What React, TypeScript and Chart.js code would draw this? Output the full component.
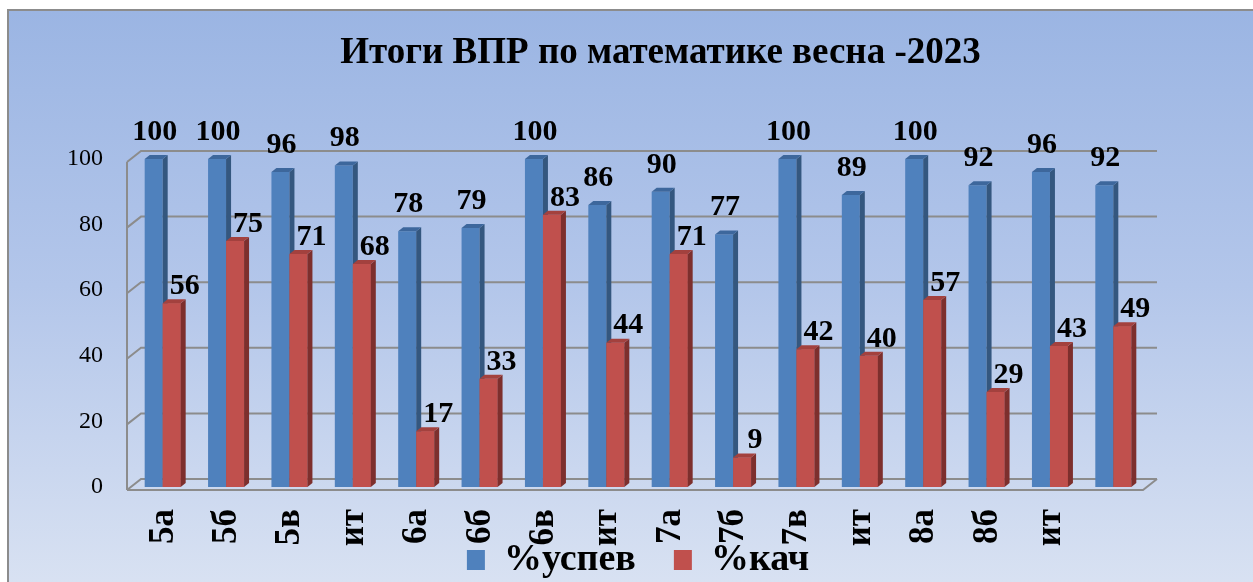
import React, { useEffect, useRef } from 'react';
import { Chart, registerables } from 'chart.js';

Chart.register(...registerables);

const categories = ['5а', '5б', '5в', 'ит', '6а', '6б', '6в', 'ит', '7а', '7б', '7в', 'ит', '8а', '8б', 'ит', ''];
const successValues = [100, 100, 96, 98, 78, 79, 100, 86, 90, 77, 100, 89, 100, 92, 96, 92];
const qualityValues = [56, 75, 71, 68, 17, 33, 83, 44, 71, 9, 42, 40, 57, 29, 43, 49];
const seriesNames = ['%успев', '%кач'];
const yTicks = [0, 20, 40, 60, 80, 100];
const titleText = 'Итоги ВПР по математике весна -2023';

const SERIF = '"Liberation Serif", "Times New Roman", serif';
const DEPTH_X = 5;
const DEPTH_Y = 4;
const X_FONT = 35;

const faces = [
  { front: '#4f81bd', side: '#34577f', top: '#3d679c' },
  { front: '#c0504d', side: '#7d2f2d', top: '#a3413e' },
];

const wallPlugin = {
  id: 'wall3d',
  beforeDatasetsDraw(chart: any) {
    const { ctx, chartArea, scales } = chart;
    const y = scales.y;
    const lf = chartArea.left - 4;
    const rb = chartArea.right + 12;
    ctx.save();
    ctx.strokeStyle = '#8c8c8c';
    ctx.lineWidth = 2;
    yTicks.forEach((v) => {
      const fy = y.getPixelForValue(v);
      ctx.beginPath();
      ctx.moveTo(lf, fy + 3);
      ctx.lineTo(lf + 14, fy - 8);
      ctx.lineTo(rb, fy - 8);
      ctx.stroke();
    });
    const y0 = y.getPixelForValue(0);
    const y100 = y.getPixelForValue(100);
    ctx.beginPath();
    ctx.moveTo(lf, y0 + 3);
    ctx.lineTo(lf, y100 + 3);
    ctx.stroke();
    ctx.beginPath();
    ctx.moveTo(lf, y0 + 3);
    ctx.lineTo(chartArea.right - 2, y0 + 3);
    ctx.lineTo(rb, y0 - 8);
    ctx.stroke();
    ctx.restore();
  },
};

function drawSides(ctx: any, meta: any, f: any) {
  meta.data.forEach((el: any) => {
    const { x, y, base, width } = el.getProps(['x', 'y', 'base', 'width'], true);
    const x0 = x - width / 2;
    const x1 = x + width / 2;
    ctx.fillStyle = f.side;
    ctx.beginPath();
    ctx.moveTo(x1, y);
    ctx.lineTo(x1 + DEPTH_X, y - DEPTH_Y);
    ctx.lineTo(x1 + DEPTH_X, base - DEPTH_Y);
    ctx.lineTo(x1, base);
    ctx.closePath();
    ctx.fill();
    ctx.fillStyle = f.top;
    ctx.beginPath();
    ctx.moveTo(x0, y);
    ctx.lineTo(x0 + DEPTH_X, y - DEPTH_Y);
    ctx.lineTo(x1 + DEPTH_X, y - DEPTH_Y);
    ctx.lineTo(x1, y);
    ctx.closePath();
    ctx.fill();
  });
}

const barSidesPlugin = {
  id: 'barSides3d',
  afterDatasetsDraw(chart: any) {
    const { ctx } = chart;
    ctx.save();
    chart.data.datasets.forEach((_ds: any, di: number) => {
      const meta = chart.getDatasetMeta(di);
      if (di > 0) meta.data.forEach((el: any) => el.draw(ctx));
      drawSides(ctx, meta, faces[di]);
    });
    ctx.restore();
  },
};

const valueLabelPlugin = {
  id: 'valueLabels',
  afterDatasetsDraw(chart: any) {
    const { ctx } = chart;
    ctx.save();
    ctx.font = `bold 30px ${SERIF}`;
    ctx.fillStyle = '#000';
    ctx.textAlign = 'center';
    ctx.textBaseline = 'middle';
    chart.data.datasets.forEach((ds: any, di: number) => {
      const meta = chart.getDatasetMeta(di);
      meta.data.forEach((el: any, i: number) => {
        const { x, y } = el.getProps(['x', 'y'], true);
        const dx = di === 0 ? 1 : 13;
        const dy = di === 0 ? -27 : -17;
        ctx.fillText(String(ds.data[i]), x + dx, y + dy);
      });
    });
    ctx.restore();
  },
};

export default function App() {
  const ref = useRef<HTMLCanvasElement | null>(null);

  useEffect(() => {
    if (!ref.current) return;
    const chart = new Chart(ref.current, {
      type: 'bar',
      data: {
        labels: categories,
        datasets: [
          {
            label: seriesNames[0],
            data: successValues,
            backgroundColor: faces[0].front,
            borderWidth: 0,
            categoryPercentage: 0.568,
            barPercentage: 1,
          },
          {
            label: seriesNames[1],
            data: qualityValues,
            backgroundColor: faces[1].front,
            borderWidth: 0,
            categoryPercentage: 0.568,
            barPercentage: 1,
          },
        ],
      },
      options: {
        responsive: false,
        animation: false,
        devicePixelRatio: 1,
        layout: { padding: { left: 68, right: 0, top: 31, bottom: 11 } },
        plugins: {
          title: {
            display: true,
            text: titleText,
            color: '#000',
            font: { family: SERIF, size: 37, weight: 'bold', lineHeight: 1.2 },
            padding: { top: 0, bottom: 83.6 },
          },
          legend: {
            display: true,
            position: 'bottom',
            fullSize: false,
            labels: {
              color: '#000',
              font: { family: SERIF, size: 38, weight: 'bold' },
              boxWidth: 18,
              boxHeight: 20,
              padding: 38,
            },
          },
          tooltip: { enabled: false },
        },
        scales: {
          x: {
            grid: { display: false, drawTicks: false },
            border: { display: false },
            ticks: {
              color: '#000',
              font: { family: SERIF, size: X_FONT, weight: 'bold', lineHeight: 1.2 },
              minRotation: 90,
              maxRotation: 90,
              autoSkip: false,
              mirror: true,
              labelOffset: X_FONT * 1.2 + 1,
              padding: -22,
            },
            afterFit: (s: any) => {
              s.height = 16;
            },
          },
          y: {
            min: 0,
            max: 100,
            grid: { display: false, drawTicks: false },
            border: { display: false },
            ticks: {
              stepSize: 20,
              color: '#000',
              font: { family: SERIF, size: 24 },
              padding: 28,
            },
            afterFit: (s: any) => {
              s.width = 63;
            },
          },
          y2: {
            position: 'right',
            display: true,
            grid: { display: false, drawTicks: false },
            border: { display: false },
            ticks: { display: false },
            afterFit: (s: any) => {
              s.width = 108;
            },
          },
        },
      },
      plugins: [wallPlugin, barSidesPlugin, valueLabelPlugin],
    } as any);
    return () => chart.destroy();
  }, []);

  return (
    <div style={{ position: 'fixed', left: 0, top: 0, right: 0, bottom: 0, overflow: 'hidden', background: '#fff' }}>
      <div
        style={{
          position: 'absolute',
          left: 7,
          top: 9,
          width: 1270,
          height: 610,
          borderLeft: '2px solid #8c8c8c',
          borderTop: '2px solid #8c8c8c',
          background: 'linear-gradient(to bottom, #9bb5e3 0%, #b3c6ea 45%, #dde5f3 100%)',
        }}
      />
      <canvas ref={ref} width={1253} height={600} style={{ position: 'absolute', left: 0, top: 0 }} />
    </div>
  );
}
